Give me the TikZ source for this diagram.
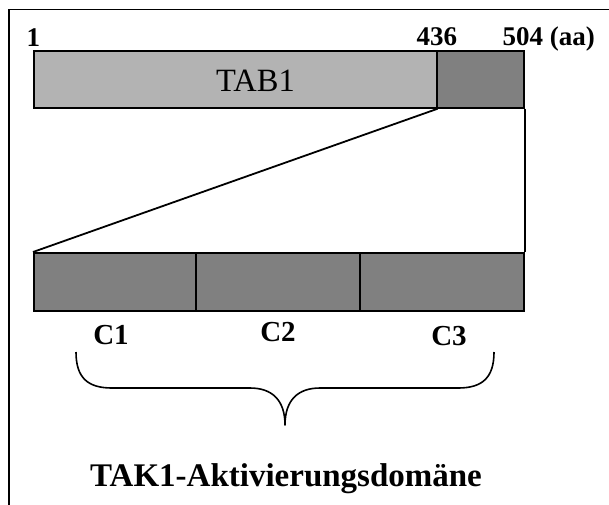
\documentclass[tikz,border=0pt]{standalone}
\usepackage{fontspec}
\setmainfont{Liberation Serif}
\definecolor{lightbar}{RGB}{179,179,179}
\definecolor{darkbar}{RGB}{128,128,128}
\begin{document}
\begin{tikzpicture}[x=1pt,y=-1pt,
  bar/.style={draw=black,line width=1.7pt,rectangle,inner sep=0pt,anchor=north west},
  seg/.style={bar,fill=darkbar},
  aapos/.style={font=\fontsize{27}{30}\selectfont\bfseries,inner sep=0pt,anchor=base west},
  clabel/.style={font=\fontsize{29}{32}\selectfont\bfseries,inner sep=0pt},
  link/.style={draw=black,line width=1.8pt}]
\useasboundingbox (0,0) rectangle (609,504);
% outer frame (runs off the right and bottom edges)
\draw[line width=1.9pt] (620,9.5) -- (9,9.5) -- (9,520);

% full-length protein
\node[bar,fill=lightbar,minimum width=403pt,minimum height=57pt] (tabmain) at (33,50) {};
\node[seg,minimum width=87pt,minimum height=57pt] (tabend) at (436,50) {};
\node[font=\fontsize{32.5}{36}\selectfont,inner sep=0pt,anchor=base] (tablabel) at (255.5,91.5) {TAB1};

% residue positions
\node[aapos] (p1) at (26.5,46) {1};
\node[aapos] (p436) at (416.5,45) {436};
\node[aapos] (p504) at (502.5,45) {504 (aa)};

% expanded C-terminal domain
\node[seg,minimum width=162pt,minimum height=58pt] (c1) at (33,252) {};
\node[seg,minimum width=164pt,minimum height=58pt] (c2) at (195,252) {};
\node[seg,minimum width=164pt,minimum height=58pt] (c3) at (359,252) {};

\draw[link] (tabmain.south east) -- (c1.north west);
\draw[link] (tabend.south east) -- (c3.north east);

\node[clabel,anchor=base] (l1) at (111,344) {C1};
\node[clabel,anchor=base] (l2) at (278,341) {C2};
\node[clabel,anchor=base] (l3) at (449,345) {C3};

% brace grouping C1--C3
\coordinate (bl) at (76,352);
\coordinate (br) at (494,352);
\coordinate (tip) at (285,425);
\draw[line width=1.6pt,line join=round]
  (bl) .. controls (76,378) and (88,388) .. (112,388)
  -- (250,388) .. controls (272,388) and (285,400) .. (tip)
  .. controls (285,400) and (298,388) .. (320,388)
  -- (458,388) .. controls (482,388) and (494,378) .. (br);

\node[font=\fontsize{33}{36}\selectfont\bfseries,inner sep=0pt,anchor=base] (domain) at (286,486) {TAK1-Aktivierungsdomäne};
\end{tikzpicture}
\end{document}
